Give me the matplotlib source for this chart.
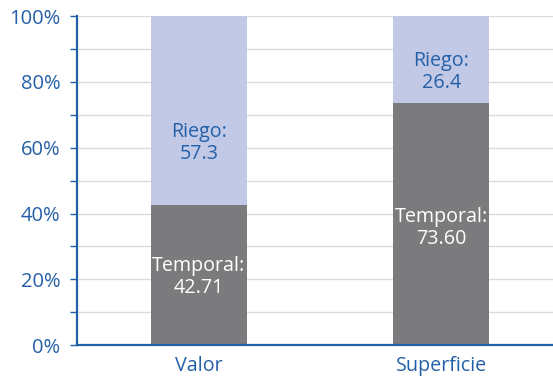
import matplotlib
matplotlib.use("Agg")
import matplotlib.pyplot as plt
import numpy as np

categories = ["Valor", "Superficie"]
temporal = [42.71, 73.60]
riego = [57.3, 26.4]
temporal_labels = ["Temporal:\n42.71", "Temporal:\n73.60"]
riego_labels = ["Riego:\n57.3", "Riego:\n26.4"]

blue = "#2460a7"
dark_gray = "#7b7b7d"
lavender = "#c1c9e7"

plt.rcParams["font.family"] = ["Open Sans", "DejaVu Sans"]

fig = plt.figure(figsize=(5.53, 3.86), dpi=100)
ax = fig.add_axes([0.139, 0.106, 0.861, 0.852])

x = np.arange(len(categories))
width = 0.396
ax.bar(x, temporal, width, color=dark_gray, zorder=2)
ax.bar(x, riego, width, bottom=temporal, color=lavender, zorder=2)

# label placement inside each segment
riego_y = [61.5, 83.0]
temporal_y = [20.7, 35.5]
for i in range(len(categories)):
    ax.text(x[i], riego_y[i], riego_labels[i], ha="center", va="center",
            color=blue, fontsize=14.2, linespacing=1.15, zorder=3)
    ax.text(x[i], temporal_y[i], temporal_labels[i], ha="center", va="center",
            color="white", fontsize=14.2, linespacing=1.15, zorder=3)

ax.set_xlim(-0.503, 1.46)
ax.set_ylim(0, 100)
ax.set_yticks(np.arange(0, 101, 20))
ax.set_yticklabels([f"{v}%" for v in range(0, 101, 20)])
ax.set_yticks(np.arange(10, 100, 20), minor=True)
ax.set_xticks(x)
ax.set_xticklabels(categories)

for v in range(10, 101, 10):
    ax.axhline(v, color="#dcdcdc", lw=1, zorder=1)

for s in ["top", "right"]:
    ax.spines[s].set_visible(False)
for s in ["left", "bottom"]:
    ax.spines[s].set_color(blue)
    ax.spines[s].set_linewidth(1.6)

ax.tick_params(axis="y", which="both", colors=blue, labelcolor=blue,
               labelsize=14.5, length=5, width=1, pad=7)
ax.tick_params(axis="x", length=0, labelcolor=blue, labelsize=14.2, pad=8)

fig.savefig("out.png", dpi=100)
